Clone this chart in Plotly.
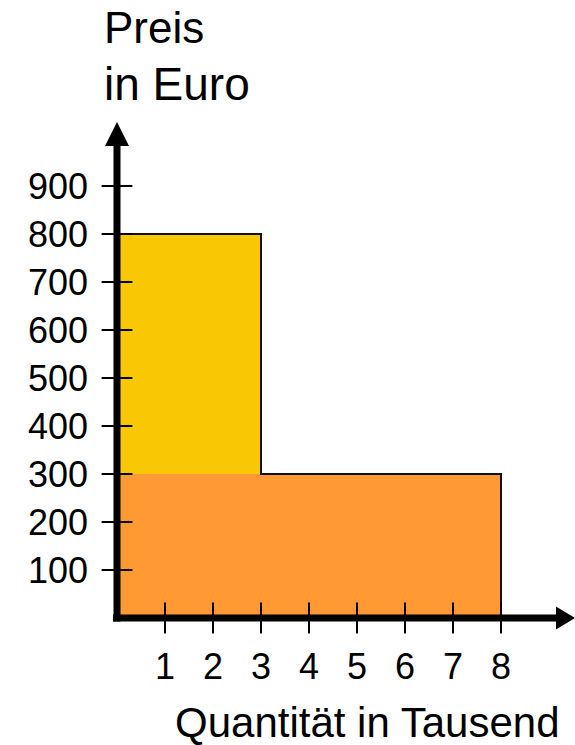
import plotly.graph_objects as go

# ---- data ----
quantity = [3, 8]            # Quantität in Tausend (right edge of each block)
price = [800, 300]           # Preis in Euro
colors = ["#F9C805", "#FE9933"]
x_ticks = [1, 2, 3, 4, 5, 6, 7, 8]
y_ticks = [100, 200, 300, 400, 500, 600, 700, 800, 900]
x_title = "Quantität in Tausend"
y_title_lines = ["Preis", "in Euro"]

# ---- pixel geometry of the canvas ----
W, H = 575, 745
X0PX, PX_PER_X = 117, 48.0     # x=0 at px 117, 48 px per unit
Y0PX, PX_PER_Y = 618, 0.48     # y=0 at px 618, 0.48 px per unit

def dx(px):
    return (px - X0PX) / PX_PER_X

def dy(py):
    return (Y0PX - py) / PX_PER_Y

fig = go.Figure()

# blocks
for q, p, c in zip(quantity, price, colors):
    fig.add_trace(go.Bar(x=[q / 2], y=[p], width=[q], base=0,
                         marker=dict(color=c, line=dict(width=0)),
                         hoverinfo="skip"))

# outline of the steps
ox = [0, quantity[0], quantity[0], quantity[1], quantity[1]]
oy = [price[0], price[0], price[1], price[1], 0]
fig.add_trace(go.Scatter(x=ox, y=oy, mode="lines",
                         line=dict(color="#111111", width=2), hoverinfo="skip"))

# tick marks crossing the axes
fig.add_trace(go.Scatter(x=[0] * len(y_ticks), y=y_ticks, mode="markers",
                         marker=dict(symbol="line-ew", size=22,
                                     line=dict(color="black", width=2)),
                         hoverinfo="skip"))
fig.add_trace(go.Scatter(x=x_ticks, y=[0] * len(x_ticks), mode="markers",
                         marker=dict(symbol="line-ns", size=22,
                                     line=dict(color="black", width=2)),
                         hoverinfo="skip"))

shapes = []
# x axis line + arrowhead
shapes.append(dict(type="line", xref="x", yref="y", x0=dx(113), x1=dx(558),
                   y0=0, y1=0, line=dict(color="black", width=7)))
shapes.append(dict(type="path", xref="x", yref="y",
                   path=f"M {dx(575)} {dy(618)} L {dx(556)} {dy(606.5)} L {dx(556)} {dy(629.5)} Z",
                   fillcolor="black", line=dict(color="black", width=0)))
# y axis line + arrowhead
shapes.append(dict(type="line", xref="x", yref="y", x0=0, x1=0,
                   y0=dy(621.5), y1=dy(144), line=dict(color="black", width=7)))
shapes.append(dict(type="path", xref="x", yref="y",
                   path=f"M {dx(117)} {dy(122)} L {dx(105)} {dy(146)} L {dx(129)} {dy(146)} Z",
                   fillcolor="black", line=dict(color="black", width=0)))

ann = []
FAM = "Liberation Sans, Arial, sans-serif"
font_ticks = dict(family=FAM, size=36, color="black")
for v in y_ticks:
    ann.append(dict(x=0, y=v, xref="x", yref="y", text=str(v), showarrow=False,
                    xanchor="right", yanchor="middle", xshift=-27, yshift=0,
                    font=font_ticks))
for v in x_ticks:
    ann.append(dict(x=v, y=0, xref="x", yref="y", text=str(v), showarrow=False,
                    xanchor="center", yanchor="middle", yshift=-48,
                    font=font_ticks))

ann.append(dict(x=367 / W, y=1 - 722 / H, xref="paper", yref="paper", text=x_title,
                showarrow=False, xanchor="center", yanchor="middle",
                font=dict(family=FAM, size=42, color="black")))
ann.append(dict(x=102 / W, y=1 - 27 / H, xref="paper", yref="paper", text=y_title_lines[0],
                showarrow=False, xanchor="left", yanchor="middle",
                font=dict(family=FAM, size=44, color="black")))
ann.append(dict(x=102 / W, y=1 - 84 / H, xref="paper", yref="paper", text=y_title_lines[1],
                showarrow=False, xanchor="left", yanchor="middle",
                font=dict(family=FAM, size=46, color="black")))

fig.update_layout(
    width=W, height=H,
    margin=dict(l=0, r=0, t=0, b=0),
    paper_bgcolor="white", plot_bgcolor="white",
    showlegend=False, barmode="overlay", bargap=0,
    xaxis=dict(range=[dx(0), dx(W)], visible=False, fixedrange=True),
    yaxis=dict(range=[dy(H), dy(0)], visible=False, fixedrange=True),
    shapes=shapes, annotations=ann,
)

fig.write_html("out.html")
